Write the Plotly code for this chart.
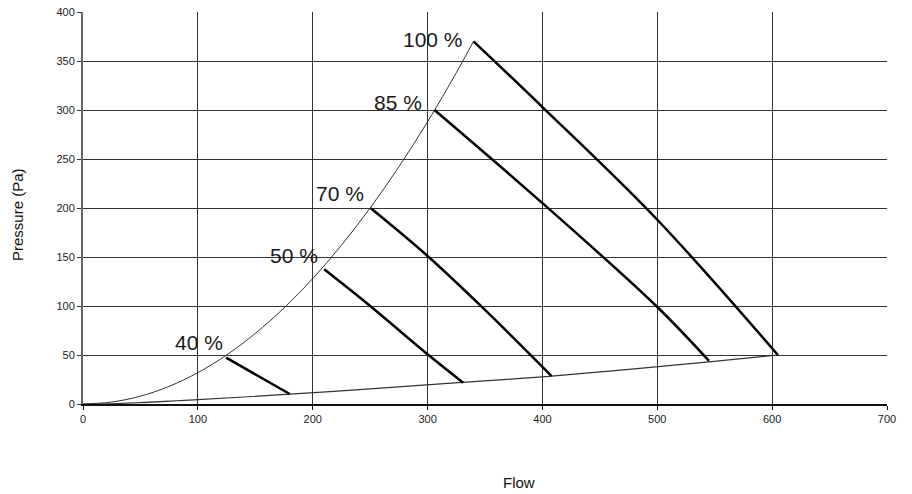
import plotly.graph_objects as go

# Fan maximum curve (upper envelope)
env_flow = [0, 25, 50, 75, 100, 125, 150, 175, 200, 225, 250, 275, 300, 325, 340]
env_pres = [0, 2, 8, 18, 32, 50, 72, 98, 128, 162, 200, 242, 288, 338, 370]

# System / minimum curve (lower envelope)
sys_flow = [0, 30, 100, 180, 250, 330, 408, 545, 605]
sys_pres = [0, 0.5, 4.5, 10, 15.5, 22, 28.5, 43, 50]

# Speed curves
speeds = ["40 %", "50 %", "70 %", "85 %", "100 %"]
flow_40 = [124.6, 180]
pres_40 = [47.3, 10.2]
flow_50 = [210, 250, 300.8, 331]
pres_50 = [137.4, 100, 50, 21.7]
flow_70 = [250.6, 300, 350, 408]
pres_70 = [199.7, 151, 96, 28.5]
flow_85 = [306, 400, 500, 545]
pres_85 = [300, 205, 99, 44]
flow_100 = [340, 400, 500, 605]
pres_100 = [370, 303, 188, 50]

# Label anchor positions (data units)
label_x = [101, 184, 224, 274, 305]
label_y = [63, 152, 215, 308, 372]

x_ticks = [0, 100, 200, 300, 400, 500, 600, 700]
y_ticks = [0, 50, 100, 150, 200, 250, 300, 350, 400]

# plot area in pixels
L, R, T, B = 83, 887, 12, 404
W, H = 912, 494

fig = go.Figure()
fig.add_trace(go.Scatter(x=env_flow, y=env_pres, mode="lines",
                         line=dict(color="#333333", width=1, shape="spline"),
                         hoverinfo="skip", showlegend=False))
fig.add_trace(go.Scatter(x=sys_flow, y=sys_pres, mode="lines",
                         line=dict(color="#333333", width=1.2, shape="spline"),
                         hoverinfo="skip", showlegend=False))
for fx, py in [(flow_40, pres_40), (flow_50, pres_50), (flow_70, pres_70),
               (flow_85, pres_85), (flow_100, pres_100)]:
    fig.add_trace(go.Scatter(x=fx, y=py, mode="lines",
                             line=dict(color="#000000", width=2.5, shape="spline", smoothing=1),
                             hoverinfo="skip", showlegend=False))

annotations = []
for s, lx, ly in zip(speeds, label_x, label_y):
    annotations.append(dict(x=lx, y=ly, xref="x", yref="y", text=s, showarrow=False,
                            font=dict(family="Liberation Sans, Arial", size=21, color="#1a1a1a"),
                            xanchor="center", yanchor="middle"))
annotations.append(dict(x=(519 - L) / (R - L), y=(B - 482) / (B - T), xref="paper", yref="paper",
                        text="Flow", showarrow=False, xanchor="center", yanchor="middle",
                        font=dict(family="Liberation Sans, Arial", size=15, color="#111111")))
annotations.append(dict(x=(18 - L) / (R - L), y=(B - 215) / (B - T), xref="paper", yref="paper",
                        text="Pressure (Pa)", showarrow=False, textangle=-90,
                        xanchor="center", yanchor="middle",
                        font=dict(family="Liberation Sans, Arial", size=15, color="#111111")))

fig.update_layout(
    width=W, height=H,
    margin=dict(l=L, r=W - R, t=T, b=H - B, autoexpand=False),
    paper_bgcolor="white", plot_bgcolor="white",
    font=dict(family="Liberation Sans, Arial", size=11, color="#222222"),
    annotations=annotations,
)
fig.update_xaxes(range=[0, 700], tickvals=x_ticks, showgrid=True, gridcolor="#333333", gridwidth=1,
                 showline=True, linecolor="#111111", linewidth=2, ticks="outside", ticklen=4,
                 tickcolor="#111111", zeroline=False, tickfont=dict(size=11, color="#222222"),
                 fixedrange=True)
fig.update_yaxes(range=[0, 400], tickvals=y_ticks, showgrid=True, gridcolor="#333333", gridwidth=1,
                 showline=True, linecolor="#666666", linewidth=2, ticks="outside", ticklen=4,
                 tickcolor="#333333", zeroline=False, tickfont=dict(size=11, color="#222222"),
                 fixedrange=True)

fig.write_html("out.html")
